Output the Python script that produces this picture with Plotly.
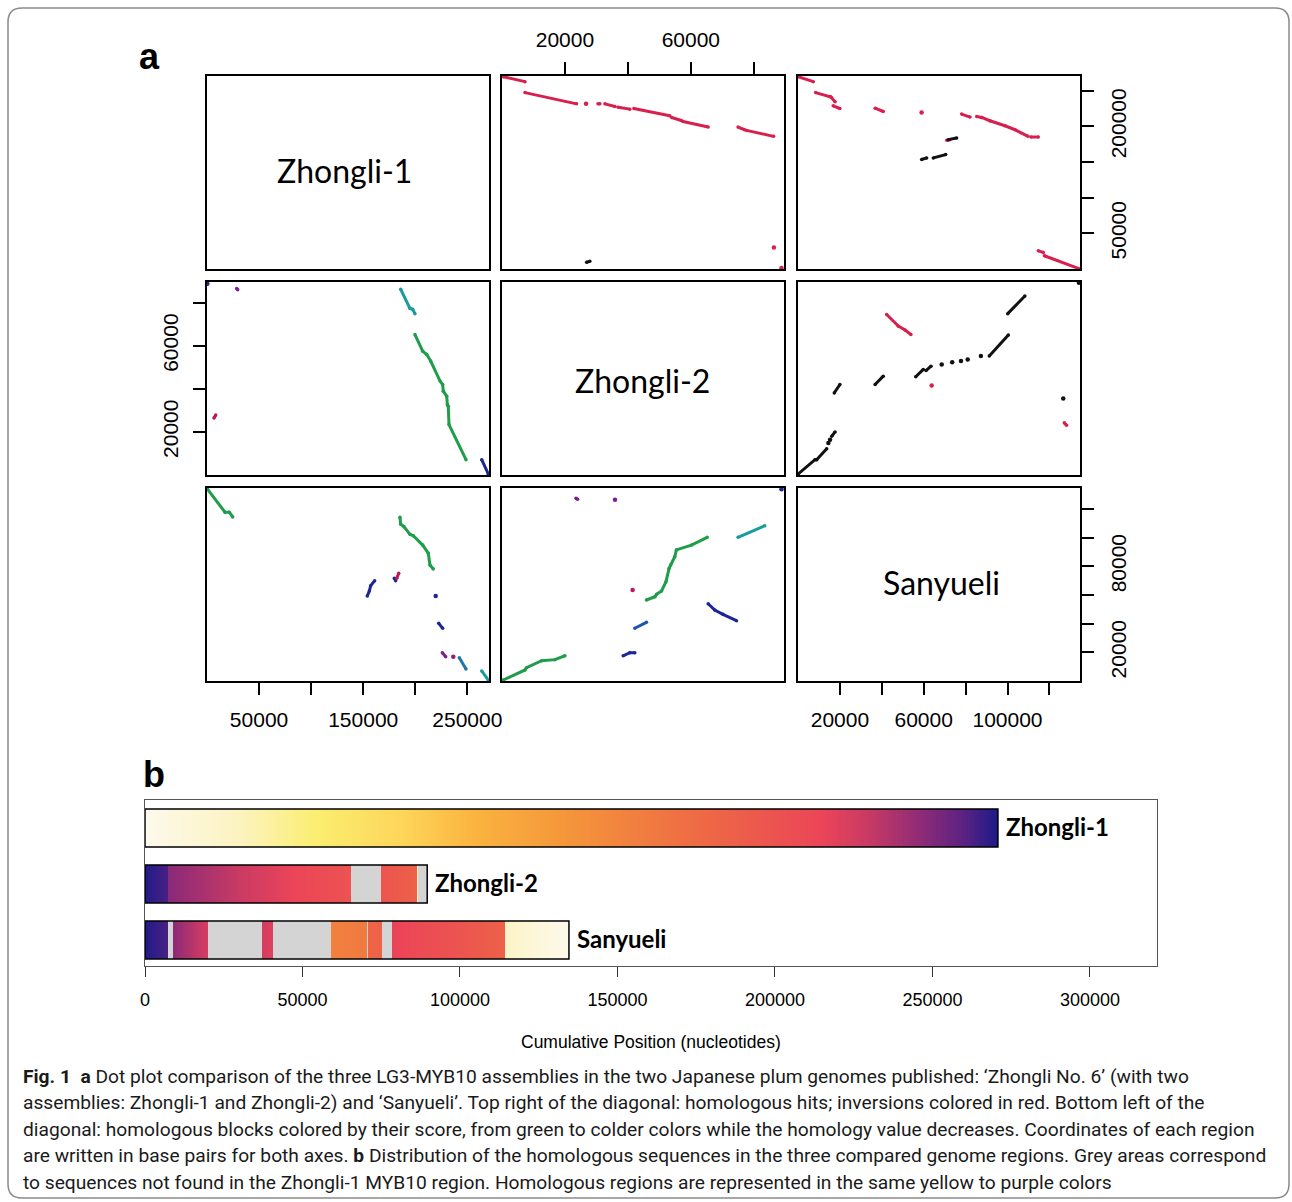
import numpy as np
import plotly.graph_objects as go

W, H = 1292, 1202

# ---------------- data ----------------
genomes = ["Zhongli-1", "Zhongli-2", "Sanyueli"]
genome_len = [270800, 89600, 134600]

# tick values / labels of panel a
z1_ticks = [50000, 100000, 150000, 200000, 250000]
z1_bottom_text = ["50000", "", "150000", "", "250000"]
z1_right_text = ["50000", "", "", "200000", ""]
z2_ticks = [20000, 40000, 60000, 80000]
z2_text = ["20000", "", "60000", ""]
sy_ticks = [20000, 40000, 60000, 80000, 100000, 120000]
sy_bottom_text = ["20000", "", "60000", "", "100000", ""]
sy_right_text = ["20000", "", "", "80000", "", ""]

seg_colors = {
    "red": "#d81f4d", "black": "#111111", "green": "#1f9d4a", "teal": "#1b9b9b",
    "navy": "#1c2694", "blue": "#1f55aa", "purple": "#7b1e92", "crimson": "#b81a5e",
    "plum": "#9c1a78", "steel": "#2077a6",
}

# top-right: homologous hits (x = column genome, y = row genome)
hits_z2_z1 = [
    ("red", [400, 7300], [269800, 262900]),
    ("red", [7300, 23700], [247500, 231700]),
    ("red", [26700], [231700]),
    ("red", [30500, 31100], [231700, 231700]),
    ("red", [32700, 35900], [231700, 228000]),
    ("red", [36900, 40600], [227100, 224300]),
    ("red", [41900, 53300], [225200, 215000]),
    ("red", [53900, 57000], [212600, 208400]),
    ("red", [57500, 65500], [207000, 199200]),
    ("red", [75000, 77100], [199200, 195400]),
    ("red", [77700, 86300], [194500, 186100]),
    ("red", [86400], [30300]),
    ("red", [88800], [1400]),
    ("black", [26900, 27900], [9400, 10700]),
]
hits_sy_z1 = [
    ("red", [100, 7300], [269800, 262900]),
    ("red", [8400, 15300, 15800, 17700], [247500, 241900, 241100, 234500]),
    ("red", [16800, 20000], [228900, 225200]),
    ("red", [36800, 40700], [225700, 221000]),
    ("red", [59000], [219600]),
    ("red", [78100, 82100], [217400, 213200]),
    ("red", [85300, 87700], [214000, 212600]),
    ("red", [87700, 91600, 98800, 103600, 109800], [212600, 208000, 201000, 195400, 186100]),
    ("red", [111200, 114700], [185200, 185200]),
    ("red", [114700, 117100], [25500, 23300]),
    ("red", [117600, 134600], [18600, 0]),
    ("red", [71000, 72500], [180500, 181500]),
    ("black", [71700, 75700], [181500, 183900]),
    ("black", [59000, 61400], [153600, 155900]),
    ("black", [64600, 70500], [155900, 160500]),
]
hits_sy_z2 = [
    ("black", [100, 8100, 8900, 13700], [500, 7100, 7100, 12200]),
    ("black", [14500], [14900]),
    ("black", [15300], [16400]),
    ("black", [16100, 17700], [18000, 20000]),
    ("black", [17300, 20000], [38100, 42000]),
    ("black", [36800, 40700], [42000, 45900]),
    ("black", [56200, 59800], [45600, 49000]),
    ("black", [61100, 63500], [48500, 50500]),
    ("black", [68600], [51300]),
    ("black", [73600], [52400]),
    ("black", [77800], [52900]),
    ("black", [81000], [53600]),
    ("black", [87300], [55200]),
    ("black", [91300, 100400], [55200, 65000]),
    ("black", [100100, 108300], [74900, 83100]),
    ("black", [126600], [35500]),
    ("black", [134100], [89300]),
    ("red", [42300, 47900, 51100, 53900], [74500, 69100, 67300, 65200]),
    ("red", [63800], [41500]),
    ("red", [127100, 128200], [24200, 23100]),
]
# bottom-left: homologous blocks coloured by score
blocks_z1_z2 = [
    ("navy", [300], [88800]),
    ("purple", [28500, 29500], [86600, 86000]),
    ("crimson", [6700, 8400], [26500, 27800]),
    ("teal", [186000, 194900, 197500, 199700], [86200, 77300, 76900, 74900]),
    ("green", [199700, 207100, 211000, 214800, 223800, 226300, 226900, 230200, 230800, 231700, 232400, 248700],
     [65200, 57500, 55900, 52900, 43600, 42000, 38900, 36600, 32700, 31900, 23400, 7100]),
    ("navy", [263800, 270100], [7100, 500]),
]
blocks_z1_sy = [
    ("green", [300, 17300, 21400, 24700], [133900, 117700, 117700, 114400]),
    ("green", [185300, 186000, 189200, 194900, 198100, 207100, 212500, 214100, 217300],
     [114200, 109300, 107600, 102300, 101300, 94800, 89100, 80900, 78100]),
    ("navy", [153900, 155900, 157200, 161000], [59300, 62800, 66500, 69900]),
    ("navy", [179900, 181200], [71600, 69900]),
    ("crimson", [182200, 184100], [71600, 75100]),
    ("navy", [219600], [59300]),
    ("navy", [222500, 226300], [40200, 36800]),
    ("purple", [226000, 229200], [19700, 16900]),
    ("plum", [236500], [16900]),
    ("steel", [242300, 248700], [16200, 8400]),
    ("teal", [263800, 270100], [7000, 700]),
]
blocks_z2_sy = [
    ("green", [400, 7300, 7800, 12600, 16800, 20000], [700, 7700, 9300, 14200, 14900, 17600]),
    ("navy", [38500, 40600, 42200], [17600, 19700, 19700]),
    ("blue", [42200, 45900], [36800, 40900]),
    ("green", [45900, 48600, 49100, 50700, 52100, 53100, 53600, 54900, 55400, 60200, 65200],
     [56500, 58800, 60500, 62800, 69300, 78600, 80900, 86700, 91400, 94800, 100200]),
    ("teal", [75000, 83500], [100200, 108300]),
    ("navy", [65500, 67600, 70200, 74500], [53900, 49500, 46500, 42100]),
    ("crimson", [41500], [63500]),
    ("purple", [23500, 24000], [127400, 126700]),
    ("purple", [35900], [126400]),
    ("navy", [88800], [133700]),
]

# panel b: segments along each genome, with homologous Zhongli-1 coordinate (None = grey)
zhongli1_start = [0]
zhongli1_end = [270800]
zhongli1_hom_from = [0]
zhongli1_hom_to = [270800]

zhongli2_start = [0, 7400, 65400, 74900, 86300, 86800]
zhongli2_end = [7400, 65400, 74900, 86300, 86800, 89600]
zhongli2_hom_from = [270000, 248000, None, 199000, 30000, None]
zhongli2_hom_to = [263000, 200000, None, 186000, 30000, None]

sanyueli_start = [0, 7400, 8800, 20100, 37100, 40500, 59000, 70500, 70800, 75200, 78400, 114200]
sanyueli_end = [7400, 8800, 20100, 37100, 40500, 59000, 70500, 70800, 75200, 78400, 114200, 134600]
sanyueli_hom_from = [270000, None, 247500, None, 225700, None, 154000, None, 181500, None, 217000, 25500]
sanyueli_hom_to = [263000, None, 225000, None, 221000, None, 161000, None, 184000, None, 186000, 0]

# colour ramp along Zhongli-1 (bp -> colour)
ramp_pos = [0, 30200, 54600, 83200, 104100, 131700, 168300, 192700, 214600, 229500, 247600, 260000, 270800]
ramp_col = ["#fdf9ec", "#fcf3c0", "#fbee70", "#fdd458", "#fbb440", "#f5983a", "#ef7242",
            "#ec5a4c", "#ec4558", "#c93a64", "#8a2a78", "#5a2282", "#1c1a88"]

b_ticks = [0, 50000, 100000, 150000, 200000, 250000, 300000]
b_tick_text = ["0", "50000", "100000", "150000", "200000", "250000", "300000"]

caption_lines = [
    "<b>Fig. 1</b>  <b>a</b> Dot plot comparison of the three LG3-MYB10 assemblies in the two Japanese plum genomes published: \u2018Zhongli No. 6\u2019 (with two",
    "assemblies: Zhongli-1 and Zhongli-2) and \u2018Sanyueli\u2019. Top right of the diagonal: homologous hits; inversions colored in red. Bottom left of the",
    "diagonal: homologous blocks colored by their score, from green to colder colors while the homology value decreases. Coordinates of each region",
    "are written in base pairs for both axes. <b>b</b> Distribution of the homologous sequences in the three compared genome regions. Grey areas correspond",
    "to sequences not found in the Zhongli-1 MYB10 region. Homologous regions are represented in the same yellow to purple colors",
]

# ---------------- layout helpers ----------------
def pxx(x):
    return x / W


def pxy(y):
    return 1 - y / H


col_px = [(207, 489), (502, 784), (798, 1080)]
row_px = [(76, 269), (282, 475), (488, 681)]

TICKFONT = dict(family="Liberation Sans, Arial", size=21, color="black")
STANDOFF = 7

fig = go.Figure()
layout = {}

panel_segments = {(0, 1): hits_z2_z1, (0, 2): hits_sy_z1, (1, 2): hits_sy_z2,
                  (1, 0): blocks_z1_z2, (2, 0): blocks_z1_sy, (2, 1): blocks_z2_sy}

xtick_cfg = {
    (2, 0): ("bottom", z1_ticks, z1_bottom_text),
    (0, 1): ("top", z2_ticks, z2_text),
    (2, 2): ("bottom", sy_ticks, sy_bottom_text),
}
ytick_cfg = {
    (1, 0): ("left", z2_ticks, z2_text),
    (0, 2): ("right", z1_ticks, z1_right_text),
    (2, 2): ("right", sy_ticks, sy_right_text),
}

for r in range(3):
    for c in range(3):
        k = r * 3 + c + 1
        xa = "x" if k == 1 else f"x{k}"
        ya = "y" if k == 1 else f"y{k}"
        xkey = "xaxis" if k == 1 else f"xaxis{k}"
        ykey = "yaxis" if k == 1 else f"yaxis{k}"
        base = dict(showline=True, mirror=True, linecolor="black", linewidth=2,
                    showgrid=False, zeroline=False, ticks="", showticklabels=False,
                    fixedrange=True, automargin=False)
        xd = dict(base, domain=[pxx(col_px[c][0]), pxx(col_px[c][1])],
                  range=[0, genome_len[c]], anchor=ya)
        yd = dict(base, domain=[pxy(row_px[r][1]), pxy(row_px[r][0])],
                  range=[0, genome_len[r]], anchor=xa)
        if (r, c) in xtick_cfg:
            side, tv, tt = xtick_cfg[(r, c)]
            xd.update(side=side, ticks="outside", ticklen=12, tickwidth=2, tickcolor="black",
                      tickvals=tv, ticktext=tt, showticklabels=True, tickfont=TICKFONT,
                      tickangle=0, ticklabelstandoff=STANDOFF)
        if (r, c) in ytick_cfg:
            side, tv, tt = ytick_cfg[(r, c)]
            yd.update(side=side, ticks="outside", ticklen=12, tickwidth=2, tickcolor="black",
                      tickvals=tv, ticktext=tt, showticklabels=True, tickfont=TICKFONT,
                      tickangle=-90, ticklabelstandoff=STANDOFF)
        layout[xkey] = xd
        layout[ykey] = yd

        segs = panel_segments.get((r, c), [])
        if not segs:
            # empty diagonal panel: invisible trace so that the panel box is drawn
            fig.add_trace(go.Scatter(x=[None], y=[None], xaxis=xa, yaxis=ya, mode="markers",
                                     showlegend=False, hoverinfo="skip"))
        for col, xs, ys in segs:
            fig.add_trace(go.Scatter(
                x=xs, y=ys, xaxis=xa, yaxis=ya,
                mode="lines+markers" if len(xs) > 1 else "markers",
                line=dict(color=seg_colors[col], width=3),
                marker=dict(color=seg_colors[col], size=3.5 if len(xs) > 1 else 4.5),
                showlegend=False, hoverinfo="skip"))

# ---------------- panel b ----------------
zmax = genome_len[0]
colorscale = [[p / zmax, cl] for p, cl in zip(ramp_pos, ramp_col)]


def build_cells(starts, ends, hfrom, hto, step=350):
    edges, vals, grey = [], [], []
    for s, e, a, b in zip(starts, ends, hfrom, hto):
        n = max(1, int(round((e - s) / step)))
        xs = np.linspace(s, e, n + 1)
        if not edges:
            edges.append(float(xs[0]))
        edges.extend(float(v) for v in xs[1:])
        if a is None:
            vals += [None] * n
            grey += [1] * n
        else:
            t = (np.arange(n) + 0.5) / n
            vals += [float(a + (b - a) * tt) for tt in t]
            grey += [None] * n
    return edges, vals, grey


rows_b = [
    (3, zhongli1_start, zhongli1_end, zhongli1_hom_from, zhongli1_hom_to),
    (2, zhongli2_start, zhongli2_end, zhongli2_hom_from, zhongli2_hom_to),
    (1, sanyueli_start, sanyueli_end, sanyueli_hom_from, sanyueli_hom_to),
]
HALF = 0.34
for yc, st, en, hf, ht in rows_b:
    edges, vals, grey = build_cells(st, en, hf, ht)
    fig.add_trace(go.Heatmap(x=edges, y=[yc - HALF, yc + HALF], z=[vals],
                             colorscale=colorscale, zmin=0, zmax=zmax, showscale=False,
                             xaxis="x10", yaxis="y10", hoverinfo="skip"))
    if any(g is not None for g in grey):
        fig.add_trace(go.Heatmap(x=edges, y=[yc - HALF, yc + HALF], z=[grey],
                                 colorscale=[[0, "#d4d4d4"], [1, "#d4d4d4"]], zmin=0, zmax=1,
                                 showscale=False, xaxis="x10", yaxis="y10", hoverinfo="skip"))

fig.add_trace(go.Bar(orientation="h", y=[3, 2, 1], x=genome_len, base=0, width=2 * HALF,
                     marker=dict(color="rgba(0,0,0,0)", line=dict(color="black", width=1.5)),
                     xaxis="x10", yaxis="y10", showlegend=False, hoverinfo="skip"))

layout["xaxis10"] = dict(domain=[pxx(145), pxx(1157)], range=[0, 321300], anchor="y10",
                         showline=True, mirror=True, linecolor="#555555", linewidth=1.2,
                         showgrid=False, zeroline=False, ticks="outside", ticklen=10,
                         tickwidth=1.2, tickcolor="#333333", tickvals=b_ticks, ticktext=b_tick_text,
                         tickfont=dict(family="Liberation Sans, Arial", size=18, color="black"),
                         ticklabelstandoff=7, fixedrange=True, automargin=False)
layout["yaxis10"] = dict(domain=[pxy(966), pxy(800)], range=[0.536, 3.5], anchor="x10",
                         showline=True, mirror=True, linecolor="#555555", linewidth=1.2,
                         showgrid=False, zeroline=False, showticklabels=False, ticks="",
                         fixedrange=True, automargin=False)

annotations = []
# panel letters
annotations.append(dict(x=pxx(149), y=pxy(57), xref="paper", yref="paper", text="<b>a</b>",
                        xanchor="center", yanchor="middle", showarrow=False,
                        font=dict(family="Liberation Sans, Arial", size=36, color="black")))
annotations.append(dict(x=pxx(154), y=pxy(774), xref="paper", yref="paper", text="<b>b</b>",
                        xanchor="center", yanchor="middle", showarrow=False,
                        font=dict(family="Liberation Sans, Arial", size=36, color="black")))
# diagonal labels
diag_label_px = [(345, 171), (642, 381), (941, 582)]
for name, (lx, ly) in zip(genomes, diag_label_px):
    annotations.append(dict(x=pxx(lx), y=pxy(ly), xref="paper", yref="paper", text=name,
                            xanchor="center", yanchor="middle", showarrow=False,
                            font=dict(family="Lato", size=32, color="black")))
# bar labels
for yc, name, ln in zip([3, 2, 1], genomes, genome_len):
    annotations.append(dict(x=ln, y=yc, xref="x10", yref="y10", text=f"<b>{name}</b>",
                            xanchor="left", yanchor="middle", xshift=6, yshift=2, showarrow=False,
                            font=dict(family="Lato", size=24, color="black")))
# axis title
annotations.append(dict(x=pxx(651), y=pxy(1042), xref="paper", yref="paper",
                        text="Cumulative Position (nucleotides)", xanchor="center", yanchor="middle",
                        showarrow=False,
                        font=dict(family="Liberation Sans, Arial", size=17.5, color="black")))
# caption
for i, line in enumerate(caption_lines):
    annotations.append(dict(x=pxx(21), y=pxy(1076 + i * 26.5), xref="paper", yref="paper",
                            text=line, xanchor="left", yanchor="middle", showarrow=False,
                            font=dict(family="Liberation Sans Narrow, Roboto", size=19.2, color="#1a1a1a")))

# rounded outer frame
x0, y0, x1, y1, rr = 8, 8, 1289, 1198, 14
path = (f"M {pxx(x0 + rr)},{pxy(y0)} L {pxx(x1 - rr)},{pxy(y0)} Q {pxx(x1)},{pxy(y0)} {pxx(x1)},{pxy(y0 + rr)} "
        f"L {pxx(x1)},{pxy(y1 - rr)} Q {pxx(x1)},{pxy(y1)} {pxx(x1 - rr)},{pxy(y1)} "
        f"L {pxx(x0 + rr)},{pxy(y1)} Q {pxx(x0)},{pxy(y1)} {pxx(x0)},{pxy(y1 - rr)} "
        f"L {pxx(x0)},{pxy(y0 + rr)} Q {pxx(x0)},{pxy(y0)} {pxx(x0 + rr)},{pxy(y0)} Z")
shapes = [dict(type="path", path=path, xref="paper", yref="paper",
               line=dict(color="#8a8a8a", width=1.5), fillcolor="rgba(0,0,0,0)")]

fig.update_layout(width=W, height=H, margin=dict(l=0, r=0, t=0, b=0, pad=0, autoexpand=False),
                  paper_bgcolor="white", plot_bgcolor="white", barmode="overlay",
                  showlegend=False, annotations=annotations, shapes=shapes, **layout)

fig.write_html("out.html", config={"displayModeBar": False},
               post_script="document.body.style.margin='0';document.body.style.overflow='hidden';")
